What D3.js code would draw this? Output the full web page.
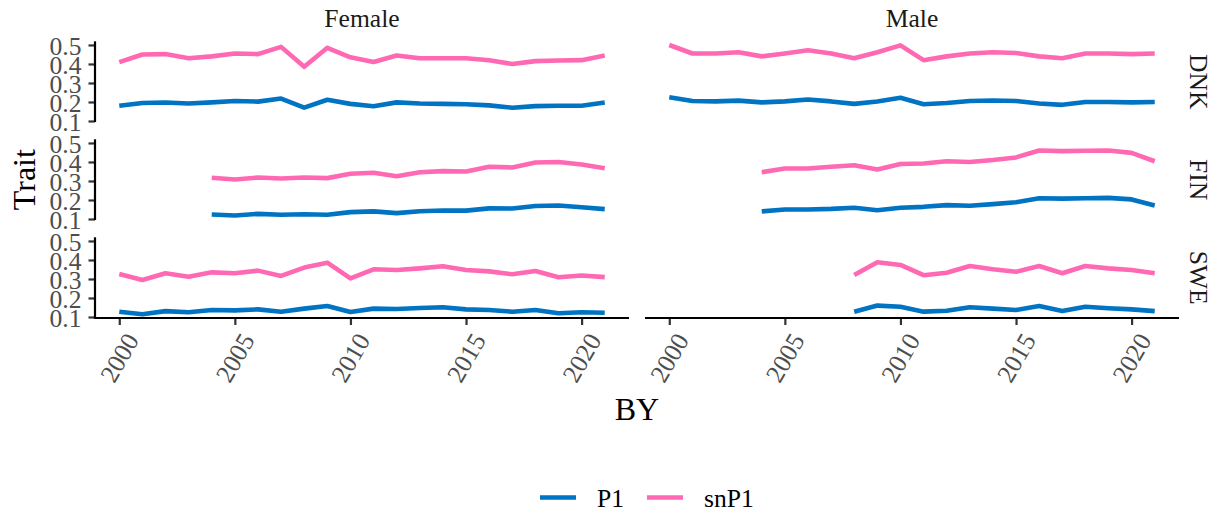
<!DOCTYPE html>
<html>
<head>
<meta charset="utf-8">
<script src="https://cdn.jsdelivr.net/npm/d3@7"></script>
<style>
  html, body { margin: 0; padding: 0; background: #fff; }
  svg { display: block; }
  svg text { font-family: "Liberation Serif", "Times New Roman", serif !important; }
</style>
</head>
<body>
<svg id="chart" width="1223" height="516"></svg>
<script>
// Birth years (BY)
const years = [2000, 2001, 2002, 2003, 2004, 2005, 2006, 2007, 2008, 2009, 2010,
               2011, 2012, 2013, 2014, 2015, 2016, 2017, 2018, 2019, 2020, 2021];

// Facet labels
const sexes = ["Female", "Male"];
const countries = ["DNK", "FIN", "SWE"];
const traits = ["P1", "snP1"];
const traitColors = ["#0073C2", "#FF69B4"];

// Trait values by year (null = no data for that year)
const femaleDNK_P1   = [0.180, 0.195, 0.197, 0.192, 0.198, 0.205, 0.202, 0.218, 0.170, 0.212, 0.190,
                        0.178, 0.198, 0.192, 0.190, 0.188, 0.182, 0.170, 0.178, 0.180, 0.180, 0.197];
const femaleDNK_snP1 = [0.410, 0.450, 0.452, 0.430, 0.440, 0.455, 0.452, 0.490, 0.385, 0.485, 0.435,
                        0.410, 0.445, 0.430, 0.430, 0.430, 0.420, 0.400, 0.415, 0.418, 0.420, 0.445];
const maleDNK_P1     = [0.225, 0.205, 0.203, 0.207, 0.198, 0.203, 0.213, 0.203, 0.190, 0.203, 0.222,
                        0.188, 0.195, 0.205, 0.208, 0.205, 0.192, 0.185, 0.200, 0.200, 0.198, 0.200];
const maleDNK_snP1   = [0.500, 0.455, 0.455, 0.462, 0.440, 0.455, 0.472, 0.455, 0.430, 0.462, 0.498,
                        0.420, 0.440, 0.455, 0.462, 0.458, 0.440, 0.430, 0.455, 0.455, 0.452, 0.455];

const femaleFIN_P1   = [null, null, null, null, 0.124, 0.118, 0.127, 0.122, 0.125, 0.122, 0.136,
                        0.140, 0.131, 0.141, 0.145, 0.144, 0.156, 0.155, 0.168, 0.171, 0.162, 0.152];
const femaleFIN_snP1 = [null, null, null, null, 0.317, 0.308, 0.318, 0.313, 0.318, 0.315, 0.338,
                        0.343, 0.325, 0.346, 0.352, 0.350, 0.375, 0.371, 0.397, 0.400, 0.387, 0.367];
const maleFIN_P1     = [null, null, null, null, 0.140, 0.150, 0.150, 0.153, 0.159, 0.146, 0.159,
                        0.164, 0.173, 0.170, 0.178, 0.188, 0.209, 0.207, 0.209, 0.211, 0.203, 0.171];
const maleFIN_snP1   = [null, null, null, null, 0.346, 0.366, 0.366, 0.375, 0.383, 0.360, 0.389,
                        0.392, 0.404, 0.400, 0.410, 0.424, 0.460, 0.457, 0.459, 0.460, 0.448, 0.404];

const femaleSWE_P1   = [0.128, 0.114, 0.131, 0.125, 0.137, 0.135, 0.140, 0.128, 0.144, 0.158, 0.126,
                        0.144, 0.142, 0.147, 0.151, 0.140, 0.137, 0.128, 0.137, 0.120, 0.125, 0.122];
const femaleSWE_snP1 = [0.326, 0.295, 0.330, 0.312, 0.335, 0.330, 0.344, 0.316, 0.360, 0.386, 0.303,
                        0.351, 0.347, 0.356, 0.367, 0.347, 0.340, 0.325, 0.342, 0.309, 0.318, 0.310];
const maleSWE_P1     = [null, null, null, null, null, null, null, null, 0.128, 0.160, 0.154,
                        0.128, 0.133, 0.151, 0.144, 0.137, 0.158, 0.131, 0.154, 0.146, 0.140, 0.131];
const maleSWE_snP1   = [null, null, null, null, null, null, null, null, 0.321, 0.388, 0.374,
                        0.320, 0.333, 0.368, 0.351, 0.338, 0.368, 0.330, 0.368, 0.356, 0.347, 0.330];

const xTicks = [2000, 2005, 2010, 2015, 2020];
const yTicks = [0.1, 0.2, 0.3, 0.4, 0.5];

// Series lookup: [sex][country][trait]
const series = {
  Female: {
    DNK: [femaleDNK_P1, femaleDNK_snP1],
    FIN: [femaleFIN_P1, femaleFIN_snP1],
    SWE: [femaleSWE_P1, femaleSWE_snP1]
  },
  Male: {
    DNK: [maleDNK_P1, maleDNK_snP1],
    FIN: [maleFIN_P1, maleFIN_snP1],
    SWE: [maleSWE_P1, maleSWE_snP1]
  }
};

// ---- layout ----
const svg = d3.select("#chart");
const serif = "'Liberation Serif', 'Times New Roman', serif";
const panelLeft = [95, 645];
const panelW = 534;
const panelTop = [41.3, 139.3, 237.3];
const panelH = 80.7;
const smallFont = 25.6;
const titleFont = 32;
const tickGrey = "#4D4D4D";
const ink = "#1A1A1A";

// shared scales with 5% padding like a faceted grid
const allVals = [].concat(...sexes.flatMap(s => countries.flatMap(c => series[s][c])))
  .filter(v => v != null);
const [yMin, yMax] = d3.extent(allVals);
const yPad = (yMax - yMin) * 0.05;
const xPad = (d3.max(years) - d3.min(years)) * 0.05;

sexes.forEach((sex, si) => {
  const x = d3.scaleLinear()
    .domain([d3.min(years) - xPad, d3.max(years) + xPad])
    .range([panelLeft[si], panelLeft[si] + panelW]);

  countries.forEach((country, ci) => {
    const top = panelTop[ci];
    const y = d3.scaleLinear()
      .domain([yMin - yPad, yMax + yPad])
      .range([top + panelH, top]);

    const g = svg.append("g");

    // data lines
    traits.forEach((trait, ti) => {
      const vals = series[sex][country][ti];
      const line = d3.line()
        .defined(d => d[1] != null)
        .x(d => x(d[0]))
        .y(d => y(d[1]));
      g.append("path")
        .datum(years.map((yr, i) => [yr, vals[i]]))
        .attr("fill", "none")
        .attr("stroke", traitColors[ti])
        .attr("stroke-width", 4.6)
        .attr("stroke-linejoin", "round")
        .attr("d", line);
    });

    // y axis on the left column only
    if (si === 0) {
      const yAxis = d3.axisLeft(y).tickValues(yTicks).tickFormat(d3.format(".1f"))
        .tickSizeOuter(0).tickSizeInner(6.5).tickPadding(7);
      const ga = g.append("g").attr("transform", `translate(${panelLeft[si]},0)`).call(yAxis)
        .attr("font-family", null).attr("font-size", null);
      ga.select(".domain").remove();
      ga.append("line")
        .attr("x1", 0).attr("x2", 0)
        .attr("y1", top).attr("y2", top + panelH)
        .attr("stroke", "#000").attr("stroke-width", 2.2);
      ga.selectAll(".tick line").attr("stroke", "#333").attr("stroke-width", 2.2);
      ga.selectAll(".tick text")
        .attr("fill", tickGrey)
        .style("font-family", serif)
        .style("font-size", smallFont + "px")
        .attr("dy", "0.36em");
    }

    // x axis on the bottom row only
    if (ci === countries.length - 1) {
      const xAxis = d3.axisBottom(x).tickValues(xTicks).tickFormat(d3.format("d"))
        .tickSizeOuter(0).tickSizeInner(7);
      const ga = g.append("g").attr("transform", `translate(0,${top + panelH})`).call(xAxis)
        .attr("font-family", null).attr("font-size", null);
      ga.select(".domain").remove();
      ga.append("line")
        .attr("x1", panelLeft[si] - (si === 0 ? 1.1 : 0)).attr("x2", panelLeft[si] + panelW)
        .attr("y1", 0).attr("y2", 0)
        .attr("stroke", "#000").attr("stroke-width", 2.2);
      ga.selectAll(".tick line").attr("stroke", "#333").attr("stroke-width", 2.2);
      ga.selectAll(".tick text")
        .attr("fill", tickGrey)
        .style("font-family", serif)
        .style("font-size", smallFont + "px")
        .attr("text-anchor", "end")
        .attr("y", 0).attr("dy", 0)
        .attr("transform", "translate(20,22) rotate(-60)");
    }

    // right-hand strip labels
    if (si === sexes.length - 1) {
      svg.append("text")
        .attr("transform", `translate(1190,${top + panelH / 2}) rotate(90)`)
        .attr("text-anchor", "middle")
        .style("font-family", serif)
        .style("font-size", smallFont + "px")
        .attr("fill", ink)
        .text(country);
    }
  });

  // top strip labels
  svg.append("text")
    .attr("x", panelLeft[si] + panelW / 2)
    .attr("y", 27)
    .attr("text-anchor", "middle")
    .style("font-family", serif)
    .style("font-size", smallFont + "px")
    .attr("fill", ink)
    .text(sex);
});

// axis titles
svg.append("text")
  .attr("x", (panelLeft[0] + panelLeft[1] + panelW) / 2)
  .attr("y", 420)
  .attr("text-anchor", "middle")
  .style("font-family", serif)
  .style("font-size", titleFont + "px")
  .attr("fill", "#000")
  .text("BY");

svg.append("text")
  .attr("transform", `translate(35,${(panelTop[0] + panelTop[2] + panelH) / 2}) rotate(-90)`)
  .attr("text-anchor", "middle")
  .style("font-family", serif)
  .style("font-size", titleFont + "px")
  .attr("fill", "#000")
  .text("Trait");

// legend
const legendItems = [
  { label: traits[0], color: traitColors[0], x: 540 },
  { label: traits[1], color: traitColors[1], x: 647 }
];
const lg = svg.append("g");
legendItems.forEach(it => {
  lg.append("line")
    .attr("x1", it.x).attr("x2", it.x + 36)
    .attr("y1", 497.5).attr("y2", 497.5)
    .attr("stroke", it.color).attr("stroke-width", 4.6);
  lg.append("text")
    .attr("x", it.x + 57)
    .attr("y", 506.5)
    .style("font-family", serif)
    .style("font-size", smallFont + "px")
    .attr("fill", "#000")
    .text(it.label);
});
</script>
</body>
</html>
